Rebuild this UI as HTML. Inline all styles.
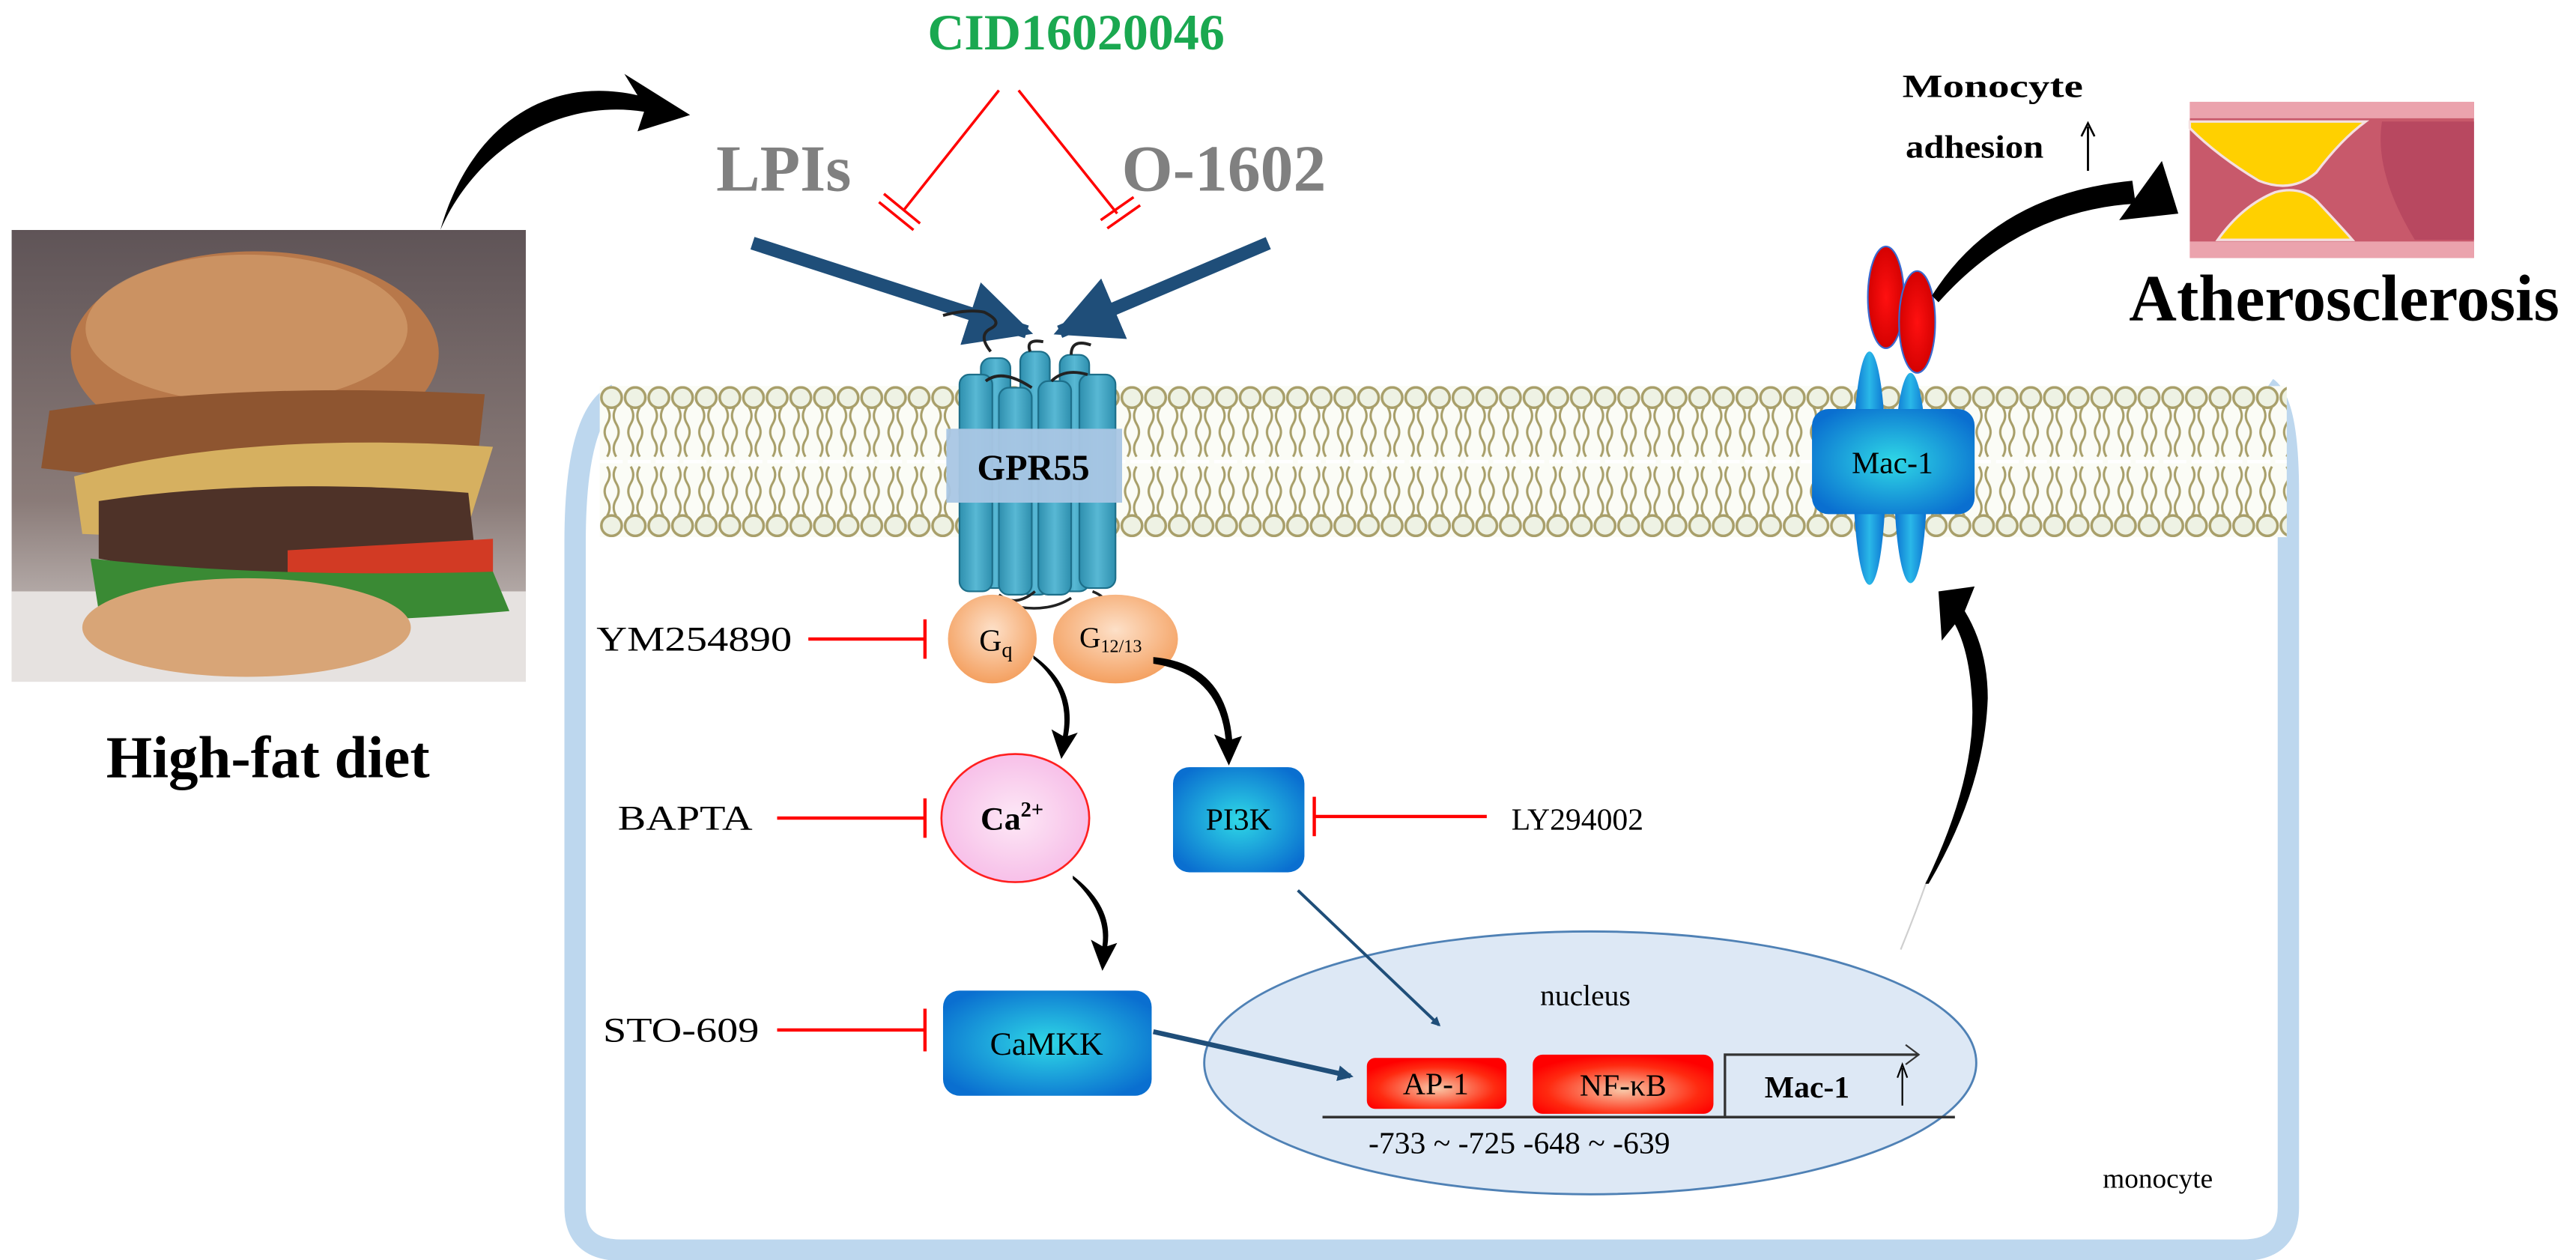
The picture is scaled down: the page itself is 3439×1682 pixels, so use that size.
<!DOCTYPE html>
<html><head><meta charset="utf-8"><style>
html,body{margin:0;padding:0;background:#fff;}
svg{display:block;}
text{font-family:"Liberation Serif",serif;}
</style></head><body>
<svg width="3439" height="1682" viewBox="0 0 1568 767" xmlns="http://www.w3.org/2000/svg">
<defs>
<pattern id="lip" x="365" y="0" width="14.4" height="767" patternUnits="userSpaceOnUse">
<circle cx="7.2" cy="242" r="6.2" fill="#eef2e4" stroke="#a89f6a" stroke-width="1.6"/>
<circle cx="7.2" cy="320" r="6.2" fill="#eef2e4" stroke="#a89f6a" stroke-width="1.6"/>
<path d="M4.5 248 q3 5 0 10 q-3 5 0 10 q3 5 0 10 M10 248 q-3 5 0 10 q3 5 0 10 q-3 5 0 10 M4.5 314 q3 -5 0 -10 q-3 -5 0 -10 q3 -5 0 -10 M10 314 q-3 -5 0 -10 q3 -5 0 -10 q-3 -5 0 -10" fill="none" stroke="#a89f6a" stroke-width="1.4"/>
</pattern>
<radialGradient id="blueg" cx="50%" cy="50%" r="60%"><stop offset="0" stop-color="#2fd8e6"/><stop offset="1" stop-color="#0a6fd0"/></radialGradient>
<radialGradient id="redg" cx="50%" cy="60%" r="60%"><stop offset="0" stop-color="#f8c8a8"/><stop offset="0.7" stop-color="#ff2a10"/><stop offset="1" stop-color="#ff0000"/></radialGradient>
<radialGradient id="redo" cx="50%" cy="50%" r="55%"><stop offset="0" stop-color="#ff1010"/><stop offset="1" stop-color="#d00000"/></radialGradient>
<radialGradient id="orag" cx="50%" cy="40%" r="60%"><stop offset="0" stop-color="#fde0c8"/><stop offset="1" stop-color="#f4a060"/></radialGradient>
<radialGradient id="pinkg" cx="50%" cy="50%" r="60%"><stop offset="0" stop-color="#fde8f6"/><stop offset="1" stop-color="#f6b8e6"/></radialGradient>
<linearGradient id="tealg" x1="0" x2="1"><stop offset="0" stop-color="#2e8fae"/><stop offset="0.5" stop-color="#58b8d4"/><stop offset="1" stop-color="#2e8fae"/></linearGradient>
<linearGradient id="stalk" x1="0" x2="1"><stop offset="0" stop-color="#0a6fd0"/><stop offset="0.5" stop-color="#2ab8e8"/><stop offset="1" stop-color="#0a6fd0"/></linearGradient>
<linearGradient id="bg1" x1="0" y1="0" x2="0" y2="1"><stop offset="0" stop-color="#5f5457"/><stop offset="0.6" stop-color="#8a7b78"/><stop offset="1" stop-color="#d9d4d2"/></linearGradient>
<marker id="ah" viewBox="0 0 10 10" refX="9" refY="5" markerWidth="5" markerHeight="5" orient="auto"><path d="M0 0 L10 5 L0 10 z" fill="#1f4e79"/></marker>
<marker id="ahb" viewBox="0 0 10 10" refX="8" refY="5" markerWidth="3.2" markerHeight="3.2" orient="auto"><path d="M0 0 L10 5 L0 10 z" fill="#1f4e79"/></marker>
</defs>

<!-- Burger photo -->
<rect x="7" y="140" width="313" height="275" fill="url(#bg1)"/>
<rect x="7" y="360" width="313" height="55" fill="#e6e2e0"/>
<ellipse cx="155" cy="215" rx="112" ry="62" fill="#b8784a"/>
<ellipse cx="150" cy="200" rx="98" ry="45" fill="#d09868" opacity="0.8"/>
<path d="M30 250 Q150 232 295 240 L290 285 Q150 300 25 285 z" fill="#8e5530"/>
<path d="M45 290 Q150 262 300 272 L285 320 Q150 330 50 325 z" fill="#d6b060"/>
<path d="M60 305 Q160 290 285 300 L290 345 Q160 360 60 340 z" fill="#4e3228"/>
<path d="M175 335 L300 328 L300 358 L175 362 z" fill="#d23a24"/>
<path d="M55 340 Q160 352 300 348 L310 372 Q160 385 60 372 z" fill="#3a8a34"/>
<ellipse cx="150" cy="382" rx="100" ry="30" fill="#d8a577"/>
<text x="163" y="473" font-size="36" font-weight="bold" text-anchor="middle" fill="#000">High-fat diet</text>

<path d="M268 140 C290 90 340 60 392 68 L388 80 L420 70 L380 45 L388 58 C330 45 285 80 268 140 z" fill="#000"/>

<text x="655" y="30" font-size="31" font-weight="bold" text-anchor="middle" fill="#1aa850">CID16020046</text>
<text x="477" y="116" font-size="40" font-weight="bold" text-anchor="middle" fill="#808080">LPIs</text>
<text x="745" y="116" font-size="40" font-weight="bold" text-anchor="middle" fill="#808080">O-1602</text>
<g stroke="#ff0000" stroke-width="1.6" fill="none">
<line x1="608" y1="55" x2="550" y2="128"/>
<line x1="538" y1="118" x2="560" y2="136"/><line x1="535" y1="123" x2="556" y2="140"/>
<line x1="620" y1="55" x2="680" y2="130"/>
<line x1="670" y1="134" x2="690" y2="120"/><line x1="674" y1="139" x2="694" y2="125"/>
</g>
<line x1="458" y1="148" x2="625" y2="202" stroke="#1f4e79" stroke-width="8" marker-end="url(#ah)"/>
<line x1="772" y1="148" x2="645" y2="202" stroke="#1f4e79" stroke-width="8" marker-end="url(#ah)"/>

<!-- Cell -->
<path d="M375 240 Q350 252 350 330 L350 735 Q350 761 378 761 L1365 761 Q1393 761 1393 735 L1393 300 Q1393 245 1380 236" fill="none" stroke="#bdd7ee" stroke-width="13"/>
<rect x="365" y="235" width="1027" height="92" fill="#fbfcf6"/>
<rect x="365" y="235" width="1027" height="92" fill="url(#lip)"/>
<line x1="365" y1="281" x2="1392" y2="281" stroke="#fff" stroke-width="2" stroke-dasharray="14 3"/>

<!-- GPR55 -->
<g fill="url(#tealg)" stroke="#1d6f8a" stroke-width="1">
<rect x="597" y="218" width="18" height="140" rx="6"/>
<rect x="621" y="214" width="18" height="148" rx="6"/>
<rect x="645" y="216" width="18" height="144" rx="6"/>
<rect x="584" y="228" width="20" height="132" rx="6"/>
<rect x="608" y="236" width="20" height="126" rx="6"/>
<rect x="632" y="232" width="20" height="130" rx="6"/>
<rect x="657" y="228" width="22" height="130" rx="6"/>
</g>
<path d="M603 214 q-8 -10 0 -14 q8 -4 -4 -10 q-10 -2 -25 2 M627 214 q-3 -8 8 -6 M652 216 q0 -10 12 -6 M600 232 q10 -8 28 4 M640 232 q8 -8 22 -4" stroke="#222" stroke-width="1.8" fill="none"/>
<rect x="576" y="261" width="107" height="45" fill="#a9c6e4" opacity="0.95"/>
<text x="629" y="292" font-size="22" font-weight="bold" text-anchor="middle">GPR55</text>
<path d="M608 362 q10 8 22 -2 M612 368 q25 6 40 -4 M665 360 q10 4 8 10" stroke="#222" stroke-width="1.6" fill="none"/>

<!-- Mac-1 protein -->
<ellipse cx="1138" cy="285" rx="10" ry="71" fill="url(#stalk)"/>
<ellipse cx="1163" cy="291" rx="10" ry="64" fill="url(#stalk)"/>
<ellipse cx="1148" cy="181" rx="11" ry="31" fill="url(#redo)" stroke="#3a6ad0" stroke-width="1"/>
<ellipse cx="1167" cy="196" rx="11" ry="31" fill="url(#redo)" stroke="#3a6ad0" stroke-width="1"/>
<rect x="1103" y="249" width="99" height="64" rx="10" fill="url(#blueg)"/>
<text x="1152" y="288" font-size="19" text-anchor="middle">Mac-1</text>
<path d="M1176 180 Q1215 118 1298 110 L1300 124 Q1230 128 1180 184 z" fill="#000"/>
<path d="M1316 98 L1326 130 L1290 134 z" fill="#000"/>
<text x="1158" y="59" font-size="20" font-weight="bold" textLength="110" lengthAdjust="spacingAndGlyphs">Monocyte</text>
<text x="1160" y="96" font-size="20" font-weight="bold" textLength="84" lengthAdjust="spacingAndGlyphs">adhesion</text>
<line x1="1271" y1="104" x2="1271" y2="77" stroke="#000" stroke-width="1.3"/>
<path d="M1267 83 L1271 75 L1275 83" fill="none" stroke="#000" stroke-width="1.2"/>

<!-- Atherosclerosis image -->
<rect x="1333" y="62" width="173" height="95" fill="#c8596b"/>
<rect x="1333" y="62" width="173" height="10" fill="#eba3ad"/>
<rect x="1333" y="147" width="173" height="10" fill="#eba3ad"/>
<path d="M1333 74 L1440 74 Q1425 85 1410 105 Q1395 118 1375 110 Q1350 95 1333 78z" fill="#ffd000" stroke="#f4e0e0" stroke-width="1.5"/>
<path d="M1350 146 Q1365 125 1385 117 Q1400 113 1410 122 Q1425 138 1432 146 z" fill="#ffd000" stroke="#f4e0e0" stroke-width="1.5"/>
<path d="M1450 74 L1506 74 L1506 146 L1470 146 Q1445 105 1450 74z" fill="#b84860"/>
<text x="1296" y="195" font-size="40" font-weight="bold" textLength="262" lengthAdjust="spacingAndGlyphs">Atherosclerosis</text>

<!-- G proteins -->
<ellipse cx="604" cy="389" rx="27" ry="27" fill="url(#orag)"/>
<text x="596" y="396" font-size="19">G<tspan font-size="13" dy="4">q</tspan></text>
<ellipse cx="679" cy="389" rx="38" ry="27" fill="url(#orag)"/>
<text x="657" y="394" font-size="18">G<tspan font-size="11" dy="3">12/13</tspan></text>
<text x="363" y="396" font-size="21" textLength="119" lengthAdjust="spacingAndGlyphs">YM254890</text>
<g stroke="#ff0000" stroke-width="2"><line x1="492" y1="389" x2="563" y2="389"/><line x1="563" y1="377" x2="563" y2="401"/>
<line x1="473" y1="498" x2="563" y2="498"/><line x1="563" y1="486" x2="563" y2="510"/>
<line x1="905" y1="497" x2="800" y2="497"/><line x1="800" y1="485" x2="800" y2="509"/>
<line x1="473" y1="627" x2="563" y2="627"/><line x1="563" y1="614" x2="563" y2="640"/></g>

<ellipse cx="618" cy="498" rx="45" ry="39" fill="url(#pinkg)" stroke="#ff2020" stroke-width="1.2"/>
<text x="616" y="505" font-size="20" font-weight="bold" text-anchor="middle">Ca<tspan font-size="13" dy="-8">2+</tspan></text>
<text x="376" y="505" font-size="21" textLength="82" lengthAdjust="spacingAndGlyphs">BAPTA</text>
<rect x="714" y="467" width="80" height="64" rx="10" fill="url(#blueg)"/>
<text x="754" y="505" font-size="19" text-anchor="middle">PI3K</text>
<text x="920" y="505" font-size="19">LY294002</text>
<rect x="574" y="603" width="127" height="64" rx="10" fill="url(#blueg)"/>
<text x="637" y="642" font-size="20" text-anchor="middle">CaMKK</text>
<text x="367" y="634" font-size="21" textLength="95" lengthAdjust="spacingAndGlyphs">STO-609</text>

<g fill="#000">
<path d="M629 401 Q652 420 647 448 L640 444 L646 462 L656 446 L650 448 Q656 418 629 399z"/>
<path d="M702 404 Q742 410 746 450 L739 447 L748 466 L756 448 L750 450 Q746 404 702 400z"/>
<path d="M653 535 Q674 555 671 576 L664 572 L671 591 L680 574 L674 576 Q678 552 653 533z"/>
</g>

<ellipse cx="968" cy="647" rx="235" ry="80" fill="#dde8f5" stroke="#4f81b5" stroke-width="1.3"/>
<text x="965" y="612" font-size="18" text-anchor="middle">nucleus</text>
<line x1="790" y1="542" x2="876" y2="624" stroke="#1f4e79" stroke-width="1.8" marker-end="url(#ahb)"/>
<line x1="702" y1="628" x2="822" y2="655" stroke="#1f4e79" stroke-width="3" marker-end="url(#ahb)"/>
<rect x="832" y="644" width="85" height="31" rx="5" fill="url(#redg)"/>
<text x="874" y="666" font-size="19" text-anchor="middle">AP-1</text>
<rect x="933" y="642" width="110" height="36" rx="6" fill="url(#redg)"/>
<text x="988" y="667" font-size="19" text-anchor="middle">NF-κB</text>
<line x1="805" y1="680" x2="1190" y2="680" stroke="#333" stroke-width="1.6"/>
<path d="M1050 680 L1050 642 L1168 642" fill="none" stroke="#333" stroke-width="1.5"/>
<path d="M1160 636 L1168 642 L1160 648" fill="none" stroke="#333" stroke-width="1"/>
<text x="1100" y="668" font-size="19" font-weight="bold" text-anchor="middle">Mac-1</text>
<line x1="1158" y1="673" x2="1158" y2="650" stroke="#000" stroke-width="1"/>
<path d="M1155 656 L1158 648 L1161 656" fill="none" stroke="#000" stroke-width="1"/>
<text x="833" y="702" font-size="19">-733 ~ -725 -648 ~ -639</text>
<text x="1280" y="723" font-size="17">monocyte</text>

<path d="M1157 578 Q1166 556 1173 536" fill="none" stroke="#cfcfcf" stroke-width="1"/>
<path d="M1172 538 Q1205 470 1200 420 Q1198 395 1190 380 L1182 390 L1180 360 L1202 357 L1196 372 Q1210 395 1210 425 Q1208 480 1174 538 z" fill="#000"/>
</svg>
</body></html>
